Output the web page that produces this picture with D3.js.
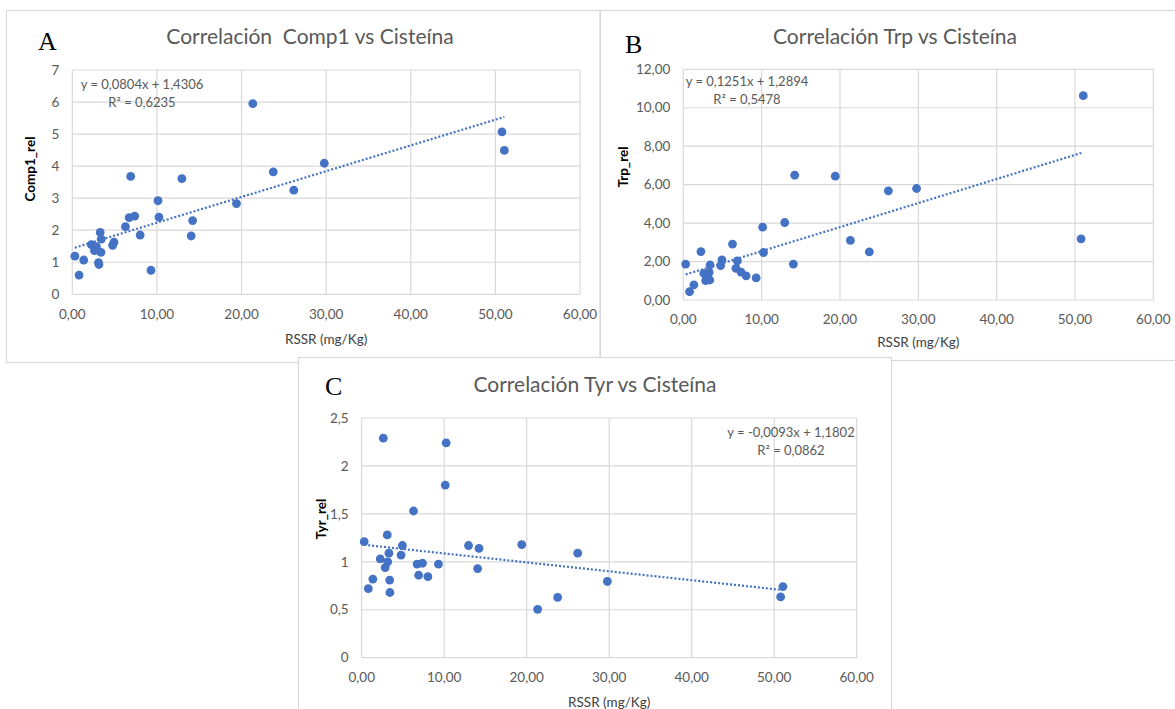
<!DOCTYPE html>
<html>
<head>
<meta charset="utf-8">
<script src="https://cdn.jsdelivr.net/npm/d3@7"></script>
<style>
  body { margin: 0; background: #fff; }
  svg { display: block; }
  text { font-family: Lato, "Open Sans", sans-serif; white-space: pre; }
  text.letter { font-family: "Liberation Serif", "DejaVu Serif", serif; }
</style>
</head>
<body>
<div class="graph"></div>
<script>
// RSSR (mg/Kg) of each sample, shared by the three charts
var rssr  = [0.30, 0.80, 1.35, 2.25, 2.62, 2.85, 3.10, 3.15, 3.30, 3.39, 3.42, 4.77, 4.93, 6.28, 6.72, 6.90,
             7.37, 8.02, 9.30, 10.13, 10.24, 12.95, 14.05, 14.22, 19.40, 21.33, 23.75, 26.18, 29.78, 50.78, 51.06];
var comp1 = [1.19, 0.60, 1.07, 1.55, 1.36, 1.49, 0.99, 0.93, 1.93, 1.31, 1.72, 1.53, 1.63, 2.11, 2.39, 3.68,
             2.44, 1.85, 0.75, 2.92, 2.41, 3.61, 1.82, 2.30, 2.83, 5.95, 3.82, 3.25, 4.09, 5.07, 4.49];
var trp   = [1.87, 0.43, 0.79, 2.52, 1.39, 1.01, 1.13, 1.08, 1.44, 1.04, 1.82, 1.79, 2.09, 2.91, 1.65, 2.04,
             1.45, 1.26, 1.15, 3.79, 2.47, 4.03, 1.87, 6.49, 6.44, 3.10, 2.50, 5.68, 5.80, 3.18, 10.63];
var tyr   = [1.21, 0.72, 0.82, 1.03, 2.29, 0.94, 1.28, 1.00, 1.09, 0.81, 0.68, 1.07, 1.17, 1.53, 0.975, 0.86,
             0.985, 0.845, 0.975, 1.80, 2.24, 1.17, 0.93, 1.14, 1.18, 0.505, 0.63, 1.09, 0.795, 0.634, 0.742];

var titles   = ["Correlación  Comp1 vs Cisteína", "Correlación Trp vs Cisteína", "Correlación Tyr vs Cisteína"];
var letters  = ["A", "B", "C"];
var yTitles  = ["Comp1_rel", "Trp_rel", "Tyr_rel"];
var xTitle   = "RSSR (mg/Kg)";
var xTicks   = [0, 10, 20, 30, 40, 50, 60];
var yTicksA  = [0, 1, 2, 3, 4, 5, 6, 7];
var yTicksB  = [0, 2, 4, 6, 8, 10, 12];
var yTicksC  = [0, 0.5, 1, 1.5, 2, 2.5];
var slopes     = [0.0804, 0.1251, -0.0093];
var intercepts = [1.4306, 1.2894, 1.1802];
var eqLabels = ["y = 0,0804x + 1,4306", "y = 0,1251x + 1,2894", "y = -0,0093x + 1,1802"];
var r2Labels = ["R² = 0,6235", "R² = 0,5478", "R² = 0,0862"];

var blue = "#4472C4", grid = "#d9d9d9", grey = "#595959";

var svg = d3.select(".graph").append("svg")
    .attr("width", 1175)
    .attr("height", 709);

var fmt2 = function(v) { return v.toFixed(2).replace(".", ","); };
var fmtC = function(v) { return String(v).replace(".", ","); };

var panels = [
  { ys: comp1, yTicks: yTicksA, yFmt: String, frame: [6.5, 10.5, 593.5, 352],
    plot: {l: 72.3, r: 580, t: 70, b: 294.3}, titleX: 310, titleY: 37, letterX: 38, letterY: 50,
    xLabY: 314, xTitleY: 339, yTitleX: 30, yTitleY: 169, eqX: 142, eqY: 84 },
  { ys: trp, yTicks: yTicksB, yFmt: fmt2, frame: [600.5, 10.5, 600, 350],
    plot: {l: 683.3, r: 1153.3, t: 69.3, b: 300}, titleX: 895, titleY: 37, letterX: 625, letterY: 53,
    xLabY: 319, xTitleY: 342, yTitleX: 623, yTitleY: 167, eqX: 747, eqY: 81 },
  { ys: tyr, yTicks: yTicksC, yFmt: fmtC, frame: [298.5, 357.5, 593, 360],
    plot: {l: 361.7, r: 856.7, t: 418, b: 657.7}, titleX: 595, titleY: 385, letterX: 325, letterY: 395,
    xLabY: 677, xTitleY: 702, yTitleX: 321, yTitleY: 519, eqX: 791, eqY: 432 }
];

panels.forEach(function(p, i) {
  var g = svg.append("g").attr("class", "panel" + i);

  g.append("rect")
    .attr("x", p.frame[0]).attr("y", p.frame[1])
    .attr("width", p.frame[2]).attr("height", p.frame[3])
    .attr("fill", "#fff").attr("stroke", grid).attr("stroke-width", 1.2);

  var x = d3.scaleLinear().domain([0, 60]).range([p.plot.l, p.plot.r]);
  var y = d3.scaleLinear().domain([0, d3.max(p.yTicks)]).range([p.plot.b, p.plot.t]);

  // gridlines
  g.selectAll(".hg").data(p.yTicks).enter().append("line")
    .attr("x1", p.plot.l).attr("x2", p.plot.r)
    .attr("y1", function(d) { return y(d); }).attr("y2", function(d) { return y(d); })
    .attr("stroke", grid).attr("stroke-width", 1.2);
  g.selectAll(".vg").data(xTicks).enter().append("line")
    .attr("y1", p.plot.t).attr("y2", p.plot.b)
    .attr("x1", function(d) { return x(d); }).attr("x2", function(d) { return x(d); })
    .attr("stroke", grid).attr("stroke-width", 1.2);

  // tick labels
  g.selectAll(".yl").data(p.yTicks).enter().append("text")
    .attr("x", p.plot.l - 13).attr("y", function(d) { return y(d); })
    .attr("dy", "0.35em").attr("text-anchor", "end")
    .attr("font-size", 13.5).attr("fill", grey)
    .text(p.yFmt);
  g.selectAll(".xl").data(xTicks).enter().append("text")
    .attr("x", function(d) { return x(d); }).attr("y", p.xLabY)
    .attr("dy", "0.35em").attr("text-anchor", "middle")
    .attr("font-size", 13.5).attr("fill", grey)
    .text(fmt2);

  // titles
  g.append("text").attr("x", p.titleX).attr("y", p.titleY).attr("dy", "0.35em")
    .attr("text-anchor", "middle").attr("font-size", 21).attr("fill", grey)
    .text(titles[i]);
  g.append("text").attr("class", "letter").attr("x", p.letterX).attr("y", p.letterY)
    .attr("font-size", 26).attr("fill", "#000")
    .text(letters[i]);
  g.append("text").attr("x", (p.plot.l + p.plot.r) / 2).attr("y", p.xTitleY).attr("dy", "0.35em")
    .attr("text-anchor", "middle").attr("font-size", 13.5).attr("fill", "#404040")
    .text(xTitle);
  g.append("text")
    .attr("transform", "translate(" + p.yTitleX + "," + p.yTitleY + ") rotate(-90)")
    .attr("dy", "0.35em").attr("text-anchor", "middle")
    .attr("font-size", 13.5).attr("font-weight", "bold").attr("fill", "#000")
    .text(yTitles[i]);

  // trendline over the data range
  var xr = d3.extent(rssr);
  var line = d3.line().x(function(d) { return x(d); })
    .y(function(d) { return y(slopes[i] * d + intercepts[i]); });
  g.append("path").datum(xr)
    .attr("d", line).attr("fill", "none")
    .attr("stroke", blue).attr("stroke-width", 2.2).attr("stroke-dasharray", "2,2");

  // points
  g.selectAll(".pt").data(rssr).enter().append("circle")
    .attr("cx", function(d) { return x(d); })
    .attr("cy", function(d, j) { return y(p.ys[j]); })
    .attr("r", 4.4).attr("fill", blue);

  // equation + R2
  g.append("text").attr("x", p.eqX).attr("y", p.eqY).attr("dy", "0.35em")
    .attr("text-anchor", "middle").attr("font-size", 13).attr("fill", grey)
    .text(eqLabels[i]);
  g.append("text").attr("x", p.eqX).attr("y", p.eqY + 18).attr("dy", "0.35em")
    .attr("text-anchor", "middle").attr("font-size", 13).attr("fill", grey)
    .text(r2Labels[i]);
});
</script>
</body>
</html>
